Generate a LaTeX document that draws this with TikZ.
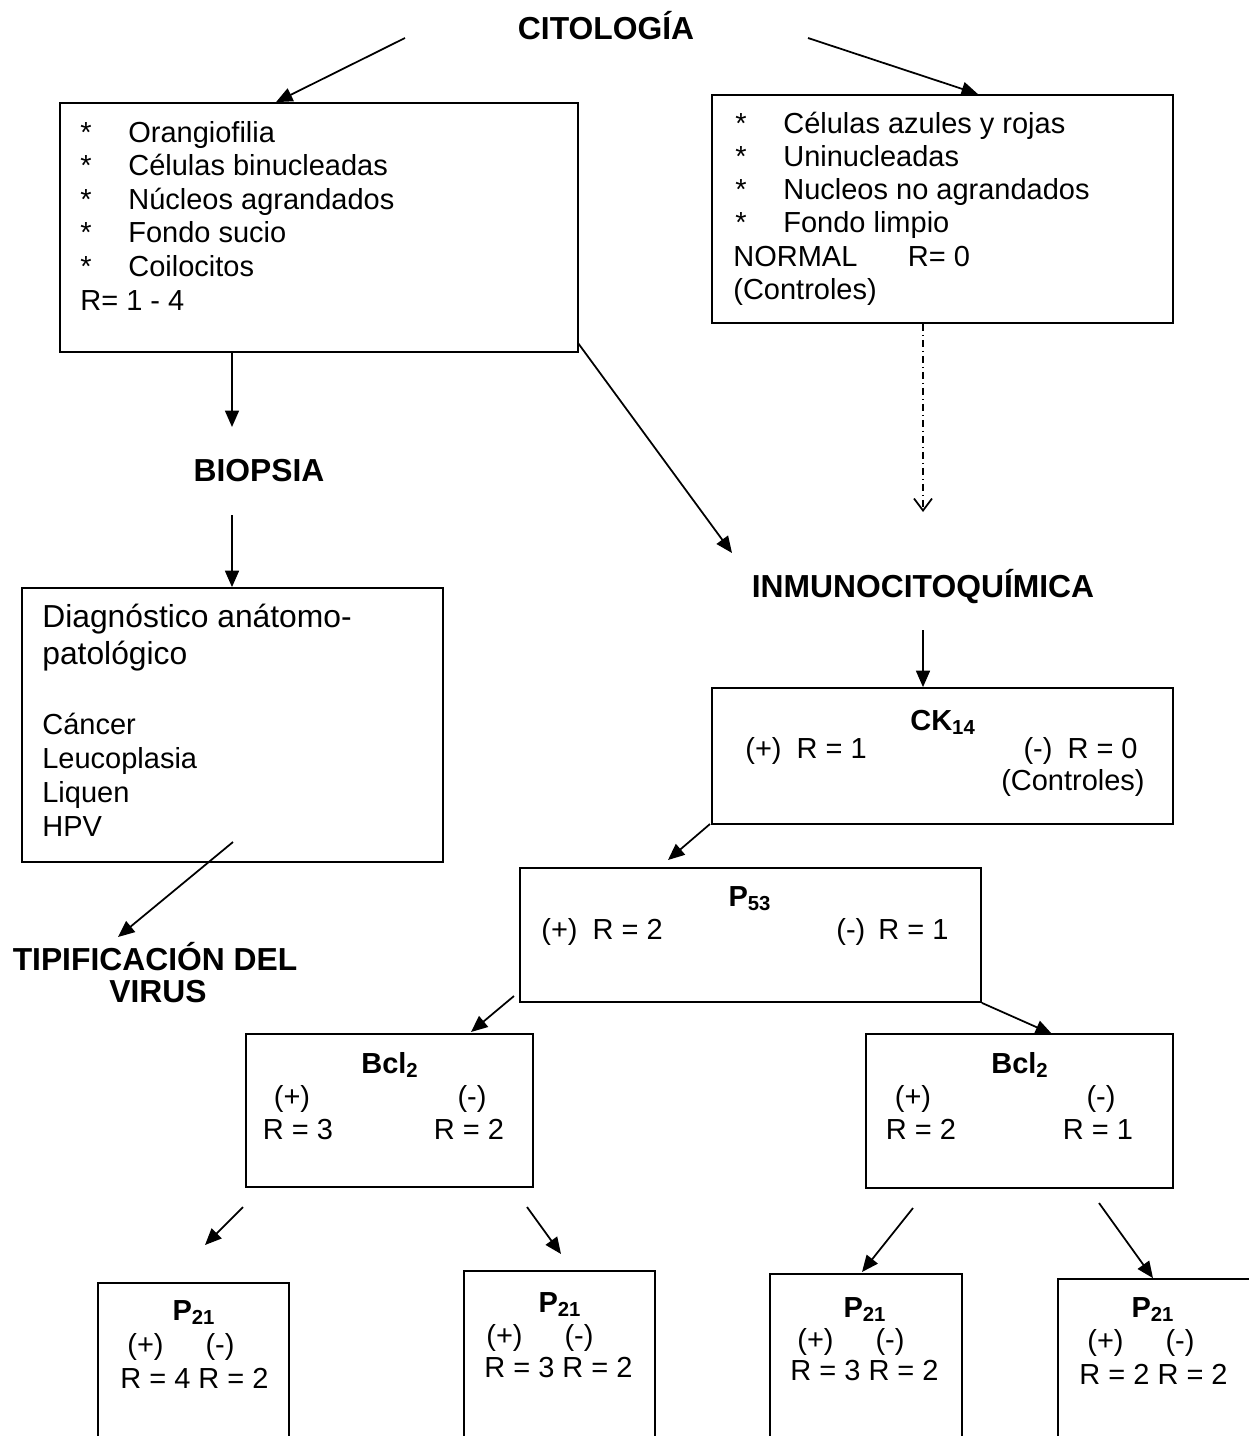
\documentclass[tikz,border=0pt]{standalone}
\usepackage{fontspec}
\setmainfont{Liberation Sans}
\usetikzlibrary{positioning,arrows.meta,fit}
\newcommand{\tamano}{\fontsize{16.5}{19}\selectfont}
\newcommand{\grande}{\fontsize{18.1}{21}\selectfont}
\newcommand{\punto}{\makebox[9.6mm][l]{*}}
\tikzset{
  caja/.style={draw,line width=1pt,inner sep=0pt},
  encab/.style={font=\grande\bfseries,anchor=base,inner sep=0pt},
  titulo/.style={font=\tamano\bfseries,anchor=base,inner sep=0pt},
  txt/.style={font=\tamano,anchor=base west,inner sep=0pt},
  ctxt/.style={font=\tamano,anchor=base,inner sep=0pt},
  etxt/.style={font=\tamano,anchor=base east,inner sep=0pt},
  flecha/.style={-{Triangle[length=3.3mm,width=2.8mm]},line width=1pt},
  guion/.style={-{Straight Barb[length=2.4mm,width=3.6mm]},line width=1pt,
    dash pattern=on 1.4mm off 0.8mm on 0.2mm off 0.8mm},
}

\begin{document}
\begin{tikzpicture}[x=0.2mm,y=-0.2mm]
  \useasboundingbox (0,0) rectangle (1249,1436);

  % citologia
  \node[encab] (cito) at (606,39) {CITOLOGÍA};

  \node[caja,fit={(60,103) (578,352)}] (anorm) {};
  \foreach \t [count=\i from 0] in {Orangiofilia,Células binucleadas,Núcleos agrandados,Fondo sucio,Coilocitos}
    \node[txt] (an\i) at (80,142+33.5*\i) {\punto\t};
  \node[txt] (anR) at (80,310) {R= 1 - 4};

  \node[caja,fit={(712,95) (1173,323)}] (norm) {};
  \foreach \t [count=\i from 0] in {Células azules y rojas,Uninucleadas,Nucleos no agrandados,Fondo limpio}
    \node[txt] (no\i) at (735,133+33*\i) {\punto\t};
  \node[txt] (noR) at (733,266) {NORMAL\hspace{10.1mm}R= 0};
  \node[txt] (noC) at (733,299) {(Controles)};

  % biopsia
  \node[encab] (biop) at (259,481) {BIOPSIA};
  \node[caja,fit={(22,588) (443,862)}] (diag) {};
  \node[txt,font=\grande] (d1) at (42,627) {Diagnóstico anátomo-};
  \node[txt,font=\grande] (d2) at (42,664) {patológico};
  \foreach \t [count=\i from 0] in {Cáncer,Leucoplasia,Liquen,HPV}
    \node[txt] (dx\i) at (42,734+34*\i) {\t};
  \node[encab] (tip1) at (155,970) {TIPIFICACIÓN DEL};
  \node[encab] (tip2) at (158,1002) {VIRUS};

  % inmunocitoquimica
  \node[encab] (inmu) at (923,597) {INMUNOCITOQUÍMICA};

  \node[caja,fit={(712,688) (1173,824)}] (ck) {};
  \node[titulo] (ckT) at (943,730) {CK\textsubscript{14}};
  \node[txt] (ckP) at (745,758) {(+)\hspace{3mm}R = 1};
  \node[etxt] (ckN) at (1138,758) {(-)\hspace{3mm}R = 0};
  \node[etxt] (ckC) at (1145,790) {(Controles)};

  \node[caja,fit={(520,868) (981,1002)}] (p53) {};
  \node[titulo] (p53T) at (750,906) {P\textsubscript{53}};
  \node[txt] (p53P) at (541,939) {(+)\hspace{3mm}R = 2};
  \node[txt] (p53N) at (836,939) {(-)\hspace{2.6mm}R = 1};

  \node[caja,fit={(246,1034) (533,1187)}] (bclA) {};
  \node[titulo] (bclAT) at (390,1073) {Bcl\textsubscript{2}};
  \node[ctxt] (bclAP) at (292,1106) {(+)};
  \node[ctxt] (bclAN) at (472,1106) {(-)};
  \node[ctxt] (bclAR) at (298,1139) {R = 3};
  \node[ctxt] (bclAS) at (469,1139) {R = 2};

  \node[caja,fit={(866,1034) (1173,1188)}] (bclB) {};
  \node[titulo] (bclBT) at (1020,1073) {Bcl\textsubscript{2}};
  \node[ctxt] (bclBP) at (913,1106) {(+)};
  \node[ctxt] (bclBN) at (1101,1106) {(-)};
  \node[ctxt] (bclBR) at (921,1139) {R = 2};
  \node[ctxt] (bclBS) at (1098,1139) {R = 1};

  % p21
  \node[caja,fit={(98,1283) (289,1480)}] (pa) {};
  \node[titulo] (paT) at (194,1320) {P\textsubscript{21}};
  \node[txt] (paS) at (127,1354) {(+)\hspace{8.4mm}(-)};
  \node[txt] (paR) at (120,1388) {R = 4 R = 2};

  \node[caja,fit={(464,1271) (655,1480)}] (pb) {};
  \node[titulo] (pbT) at (560,1312) {P\textsubscript{21}};
  \node[txt] (pbS) at (486,1345) {(+)\hspace{8.4mm}(-)};
  \node[txt] (pbR) at (484,1377) {R = 3 R = 2};

  \node[caja,fit={(770,1274) (962,1480)}] (pc) {};
  \node[titulo] (pcT) at (865,1317) {P\textsubscript{21}};
  \node[txt] (pcS) at (797,1349) {(+)\hspace{8.4mm}(-)};
  \node[txt] (pcR) at (790,1380) {R = 3 R = 2};

  \node[caja,fit={(1058,1279) (1270,1480)}] (pd) {};
  \node[titulo] (pdT) at (1153,1317) {P\textsubscript{21}};
  \node[txt] (pdS) at (1087,1350) {(+)\hspace{8.4mm}(-)};
  \node[txt] (pdR) at (1079,1384) {R = 2 R = 2};

  % arrow ends
  \coordinate (c1) at (405,38);   \coordinate (c2) at (808,38);
  \coordinate (c3) at (232,515);  \coordinate (c4) at (233,842);
  \coordinate (c5) at (118,937);  \coordinate (c6) at (578,343);
  \coordinate (c7) at (923,512);  \coordinate (c8) at (923,630);
  \coordinate (c9) at (710,824);  \coordinate (c10) at (514,996);
  \coordinate (c11) at (471,1032); \coordinate (c12) at (1052,1034);
  \coordinate (c13) at (243,1207); \coordinate (c14) at (205,1245);
  \coordinate (c15) at (527,1207); \coordinate (c16) at (561,1254);
  \coordinate (c17) at (913,1208); \coordinate (c18) at (862,1272);
  \coordinate (c19) at (1099,1203);

  \draw[flecha] (c1) -- (anorm.north -| 276,0);
  \draw[flecha] (c2) -- (norm.north -| 978,0);
  \draw[flecha] (anorm.south -| 232,0) -- (232,427) coordinate (c3b);
  \draw[flecha] (c3) -- (diag.north -| c3);
  \draw[flecha] (c4) -- (c5);
  \draw[flecha] (c6) -- (732,553) coordinate (c6b);
  \draw[guion] (norm.south -| c7) -- (c7);
  \draw[flecha] (c8) -- (ck.north -| c8);
  \draw[flecha] (c9) -- (668,860) coordinate (c9b);
  \draw[flecha] (c10) -- (c11);
  \draw[flecha] (p53.south east) -- (c12);
  \draw[flecha] (c13) -- (c14);
  \draw[flecha] (c15) -- (c16);
  \draw[flecha] (c17) -- (c18);
  \draw[flecha] (c19) -- (pd.north -| 1153,0);
\end{tikzpicture}
\end{document}
